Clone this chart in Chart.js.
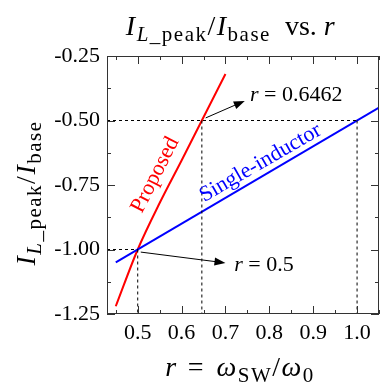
<!DOCTYPE html>
<html>
<head>
<meta charset="utf-8">
<script src="https://cdn.jsdelivr.net/npm/chart.js@4.4.1/dist/chart.umd.min.js"></script>
<style>
  html, body { margin: 0; padding: 0; background: #fff; }
  #wrap { width: 385px; height: 386px; }
</style>
</head>
<body>
<div id="wrap"><canvas id="myChart" width="385" height="386"></canvas></div>
<script>
// values
const proposedR = [0.45, 0.5, 0.55, 0.6, 0.6462, 0.7];
const proposedY = [-1.22, -1.0, -0.82, -0.655, -0.5, -0.32];
const singleR = [0.45, 1.05];
const singleY = [-1.05, -0.45];

const xTicks = [0.45, 0.5, 0.55, 0.6, 0.65, 0.7, 0.75, 0.8, 0.85, 0.9, 0.95, 1.0, 1.05];
const yTicks = [-1.25, -1.125, -1.0, -0.875, -0.75, -0.625, -0.5, -0.375, -0.25];

// dotted guides
const guideA = { r: 0.5, y: -1.0 };
const guideB = { r: 0.6462, y: -0.5 };
const guideC = { r: 1.0, y: -0.5 };

const SERIF = '"Liberation Serif", "Times New Roman", serif';

function pts(xs, ys) {
  return xs.map((x, i) => ({ x: x, y: ys[i] }));
}
function dotted(data) {
  return { data: data, borderColor: "#000", borderWidth: 1, borderDash: [3, 3], pointRadius: 0, fill: false };
}

// draw text runs with italic / subscript parts, char by char (sp = extra spacing)
function drawRich(ctx, runs, x, y, size, align) {
  const subSize = size * 0.75;
  const fontOf = (r) => (r.i ? "italic " : "") + (r.sub ? subSize : size) + "px " + SERIF;
  let total = 0;
  runs.forEach((r) => {
    ctx.font = fontOf(r);
    const sp = r.sp === undefined ? 1.5 : r.sp;
    r.w = 0;
    for (const ch of r.t) r.w += ctx.measureText(ch).width + sp;
    total += r.w;
  });
  let cx = align === "center" ? x - total / 2 : x;
  runs.forEach((r) => {
    ctx.font = fontOf(r);
    const sp = r.sp === undefined ? 1.5 : r.sp;
    for (const ch of r.t) {
      ctx.fillText(ch, cx, y + (r.sub ? size * 0.22 : 0));
      cx += ctx.measureText(ch).width + sp;
    }
  });
}

const yTitle = [{ t: "I", i: 1 }, { t: "L", i: 1, sub: 1 }, { t: "_peak", sub: 1 }, { t: "/" }, { t: "I", i: 1 }, { t: "base", sub: 1 }];

const decorations = {
  id: "decorations",
  afterDraw(chart) {
    const ctx = chart.ctx;
    const a = chart.chartArea;
    const xs = chart.scales.x, ys = chart.scales.y;
    ctx.save();
    ctx.fillStyle = "#000";
    ctx.textAlign = "left";
    ctx.textBaseline = "alphabetic";

    // frame
    ctx.strokeStyle = "#333";
    ctx.lineWidth = 1;
    ctx.strokeRect(a.left + 0.5, a.top + 0.5, a.right - a.left - 1, a.bottom - a.top - 1);

    // inward ticks on all four sides
    ctx.beginPath();
    xs.ticks.forEach((t) => {
      const major = Math.abs(t.value * 10 - Math.round(t.value * 10)) < 1e-6;
      const len = major ? 8 : 4;
      const px = Math.round(xs.getPixelForValue(t.value)) + 0.5;
      ctx.moveTo(px, a.bottom); ctx.lineTo(px, a.bottom - len);
      ctx.moveTo(px, a.top); ctx.lineTo(px, a.top + len);
    });
    ys.ticks.forEach((t) => {
      const major = Math.abs(t.value * 4 - Math.round(t.value * 4)) < 1e-6;
      const len = major ? 8 : 4;
      const py = Math.round(ys.getPixelForValue(t.value)) + 0.5;
      ctx.moveTo(a.left, py); ctx.lineTo(a.left + len, py);
      ctx.moveTo(a.right, py); ctx.lineTo(a.right - len, py);
    });
    ctx.stroke();

    // title
    drawRich(ctx, yTitle.concat([{ t: "  vs. ", sp: 0 }, { t: "r", i: 1 }]), 231, 35, 28, "center");

    // x title
    drawRich(ctx, [{ t: "r", i: 1 }, { t: " = ", sp: 3 }, { t: "ω", i: 1 }, { t: "SW", sub: 1 }, { t: "/" }, { t: "ω", i: 1 }, { t: "0", sub: 1 }], 240, 376, 28, "center");

    // y title
    ctx.save();
    ctx.translate(35, 193);
    ctx.rotate(-Math.PI / 2);
    drawRich(ctx, yTitle, 0, 0, 28, "center");
    ctx.restore();

    // arrows
    const arrow = (x0, y0, x1, y1) => {
      const p0x = xs.getPixelForValue(x0), p0y = ys.getPixelForValue(y0);
      const p1x = xs.getPixelForValue(x1), p1y = ys.getPixelForValue(y1);
      const ang = Math.atan2(p1y - p0y, p1x - p0x);
      ctx.strokeStyle = "#000";
      ctx.lineWidth = 1;
      ctx.beginPath();
      ctx.moveTo(p0x, p0y);
      ctx.lineTo(p1x - 8 * Math.cos(ang), p1y - 8 * Math.sin(ang));
      ctx.stroke();
      ctx.beginPath();
      ctx.moveTo(p1x, p1y);
      ctx.lineTo(p1x - 11 * Math.cos(ang) + 4 * Math.sin(ang), p1y - 11 * Math.sin(ang) - 4 * Math.cos(ang));
      ctx.lineTo(p1x - 11 * Math.cos(ang) - 4 * Math.sin(ang), p1y - 11 * Math.sin(ang) + 4 * Math.cos(ang));
      ctx.closePath();
      ctx.fill();
    };
    arrow(0.655, -0.49, 0.744, -0.424);
    arrow(0.507, -1.01, 0.70, -1.052);

    ctx.textBaseline = "middle";
    drawRich(ctx, [{ t: "r", i: 1, sp: 0 }, { t: " = 0.6462", sp: 0 }], xs.getPixelForValue(0.756), ys.getPixelForValue(-0.401), 22, "left");
    drawRich(ctx, [{ t: "r", i: 1, sp: 0 }, { t: " = 0.5", sp: 0 }], xs.getPixelForValue(0.72), ys.getPixelForValue(-1.06), 22, "left");

    // series labels along the lines
    const label = (text, color, x, y, deg) => {
      ctx.save();
      ctx.translate(xs.getPixelForValue(x), ys.getPixelForValue(y));
      ctx.rotate(deg * Math.PI / 180);
      ctx.fillStyle = color;
      ctx.font = "22px " + SERIF;
      ctx.textAlign = "center";
      ctx.fillText(text, 0, 0);
      ctx.restore();
    };
    label("Proposed", "#ff0000", 0.540, -0.711, -63);
    label("Single-inductor", "#0000ff", 0.780, -0.665, -30);
    ctx.restore();
  }
};

const ctx = document.getElementById("myChart").getContext("2d");
const myChart = new Chart(ctx, {
  type: "line",
  data: {
    datasets: [
      dotted([{ x: 0.43, y: guideA.y }, { x: guideA.r, y: guideA.y }]),
      dotted([{ x: guideA.r, y: guideA.y }, { x: guideA.r, y: -1.25 }]),
      dotted([{ x: 0.43, y: guideC.y }, { x: guideC.r, y: guideC.y }]),
      dotted([{ x: guideB.r, y: guideB.y }, { x: guideB.r, y: -1.25 }]),
      dotted([{ x: guideC.r, y: guideC.y }, { x: guideC.r, y: -1.25 }]),
      {
        label: "Single-inductor",
        data: pts(singleR, singleY),
        borderColor: "#0000ff",
        borderWidth: 2,
        pointRadius: 0,
        fill: false
      },
      {
        label: "Proposed",
        data: pts(proposedR, proposedY),
        borderColor: "#ff0000",
        borderWidth: 2,
        pointRadius: 0,
        cubicInterpolationMode: "monotone",
        fill: false
      }
    ]
  },
  options: {
    responsive: false,
    animation: false,
    layout: { padding: { top: 56, right: 1, left: 0, bottom: 0 } },
    plugins: { legend: { display: false }, tooltip: { enabled: false } },
    scales: {
      x: {
        type: "linear",
        min: 0.43,
        max: 1.05,
        grid: { display: false, drawTicks: false },
        border: { display: false },
        afterBuildTicks: (s) => { s.ticks = xTicks.map((v) => ({ value: v })); },
        afterFit: (s) => { s.height = 72; },
        ticks: {
          autoSkip: false,
          maxRotation: 0,
          padding: 6,
          color: "#000",
          font: { family: SERIF, size: 22 },
          callback: (v) => (Math.abs(v * 10 - Math.round(v * 10)) < 1e-6 ? v.toFixed(1) : "")
        }
      },
      y: {
        type: "linear",
        min: -1.25,
        max: -0.25,
        grid: { display: false, drawTicks: false },
        border: { display: false },
        afterBuildTicks: (s) => { s.ticks = yTicks.map((v) => ({ value: v })); },
        afterFit: (s) => { s.width = 107; },
        ticks: {
          autoSkip: false,
          padding: 7,
          color: "#000",
          font: { family: SERIF, size: 22 },
          callback: (v) => (Math.abs(v * 4 - Math.round(v * 4)) < 1e-6 ? v.toFixed(2) : "")
        }
      }
    }
  },
  plugins: [decorations]
});
</script>
</body>
</html>
